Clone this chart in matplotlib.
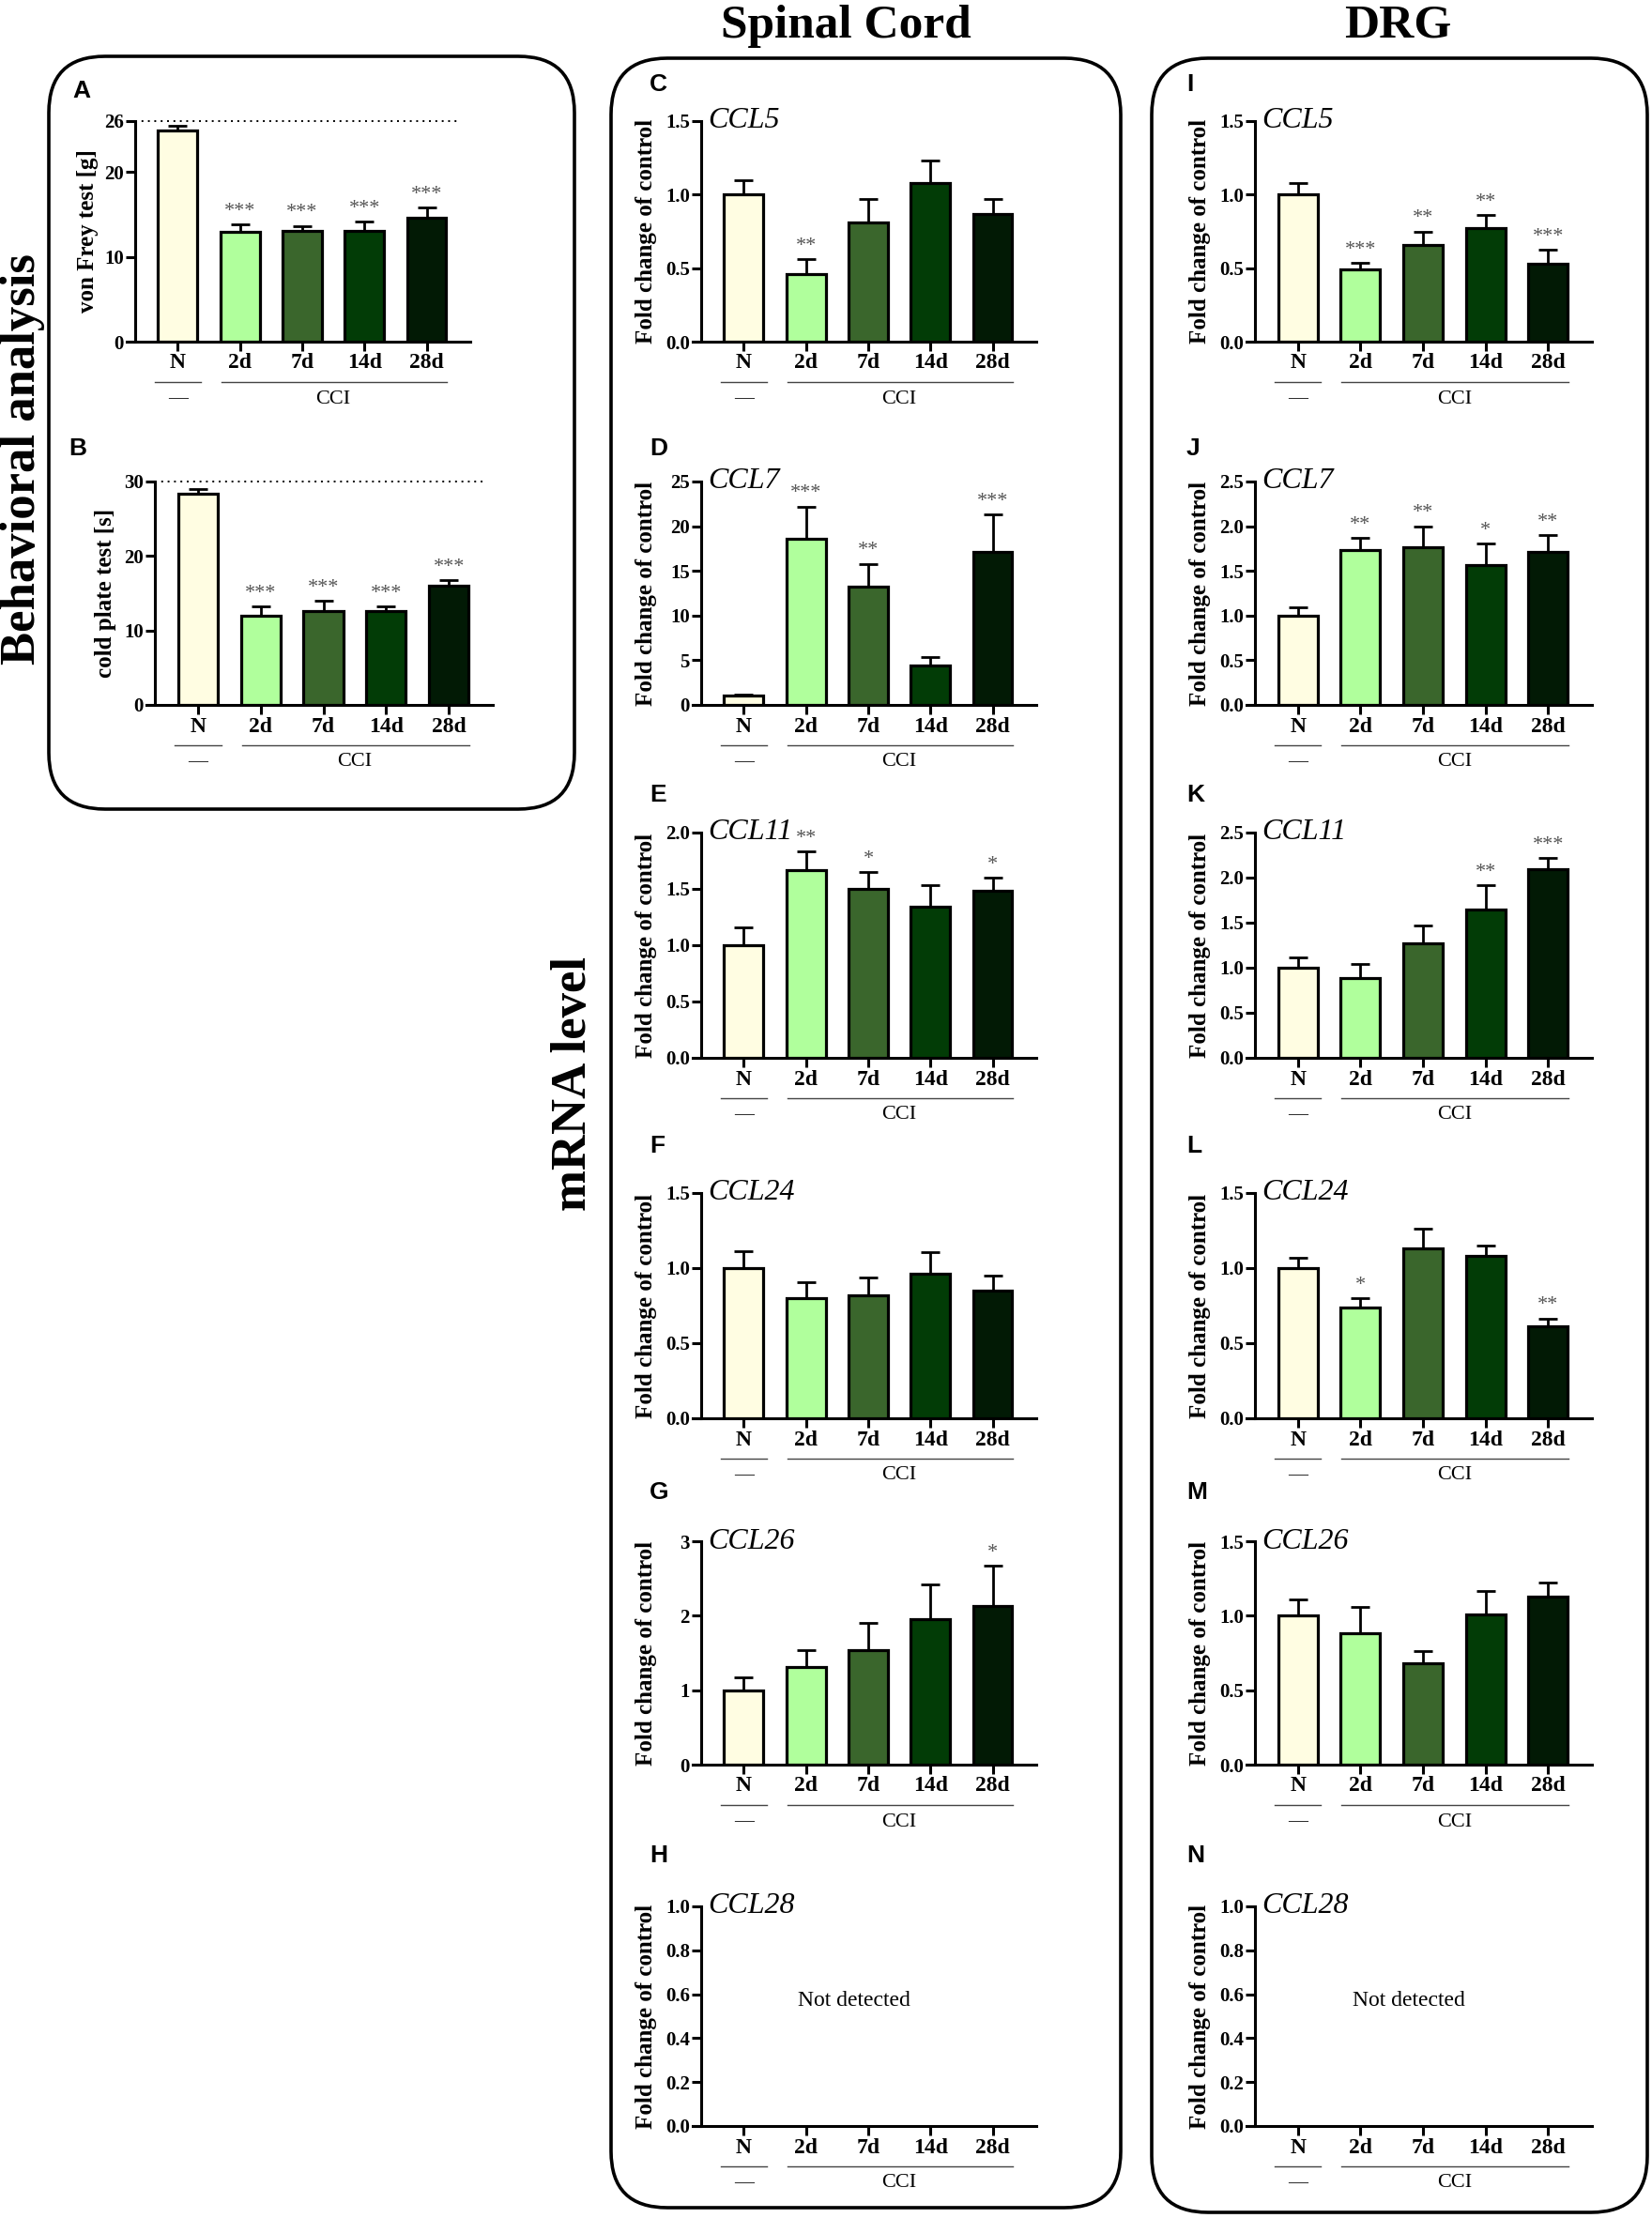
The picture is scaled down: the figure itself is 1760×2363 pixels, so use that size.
import numpy as np
import matplotlib
matplotlib.use('Agg')
from matplotlib import pyplot as plt
from matplotlib.patches import FancyBboxPatch
from matplotlib.transforms import blended_transform_factory

plt.rcParams['font.family'] = ['Liberation Serif', 'DejaVu Serif']

W, H = 1760, 2363

# groups and colours
groups = ['N', '2d', '7d', '14d', '28d']
bar_colors = ['#FFFDE2', '#B0FF9C', '#3A662C', '#023C06', '#021A05']

# behavioural tests
vonfrey_mean = [24.9, 12.9, 13.1, 13.05, 14.6]
vonfrey_err = [0.6, 0.9, 0.55, 1.1, 1.2]
vonfrey_sig = ['', '***', '***', '***', '***']
coldplate_mean = [28.4, 12.0, 12.6, 12.6, 16.0]
coldplate_err = [0.55, 1.25, 1.35, 0.65, 0.75]
coldplate_sig = ['', '***', '***', '***', '***']

# spinal cord mRNA
sc_ccl5_mean = [1.0, 0.46, 0.81, 1.08, 0.87]
sc_ccl5_err = [0.10, 0.10, 0.16, 0.15, 0.10]
sc_ccl5_sig = ['', '**', '', '', '']
sc_ccl7_mean = [1.0, 18.6, 13.2, 4.4, 17.1]
sc_ccl7_err = [0.15, 3.6, 2.6, 1.0, 4.2]
sc_ccl7_sig = ['', '***', '**', '', '***']
sc_ccl11_mean = [1.0, 1.67, 1.50, 1.34, 1.48]
sc_ccl11_err = [0.16, 0.16, 0.15, 0.19, 0.12]
sc_ccl11_sig = ['', '**', '*', '', '*']
sc_ccl24_mean = [1.0, 0.80, 0.82, 0.96, 0.85]
sc_ccl24_err = [0.11, 0.105, 0.115, 0.145, 0.10]
sc_ccl24_sig = ['', '', '', '', '']
sc_ccl26_mean = [1.0, 1.31, 1.54, 1.96, 2.13]
sc_ccl26_err = [0.17, 0.23, 0.36, 0.46, 0.54]
sc_ccl26_sig = ['', '', '', '', '*']

# DRG mRNA
drg_ccl5_mean = [1.0, 0.49, 0.66, 0.77, 0.53]
drg_ccl5_err = [0.08, 0.045, 0.09, 0.09, 0.095]
drg_ccl5_sig = ['', '***', '**', '**', '***']
drg_ccl7_mean = [1.0, 1.73, 1.76, 1.56, 1.71]
drg_ccl7_err = [0.09, 0.14, 0.24, 0.245, 0.19]
drg_ccl7_sig = ['', '**', '**', '*', '**']
drg_ccl11_mean = [1.0, 0.89, 1.27, 1.65, 2.09]
drg_ccl11_err = [0.11, 0.15, 0.20, 0.27, 0.13]
drg_ccl11_sig = ['', '', '', '**', '***']
drg_ccl24_mean = [1.0, 0.74, 1.13, 1.08, 0.61]
drg_ccl24_err = [0.07, 0.06, 0.13, 0.07, 0.055]
drg_ccl24_sig = ['', '*', '', '', '**']
drg_ccl26_mean = [1.0, 0.88, 0.68, 1.01, 1.13]
drg_ccl26_err = [0.11, 0.18, 0.08, 0.155, 0.095]
drg_ccl26_sig = ['', '', '', '', '']

# layout in pixels
row_top = [129, 513, 887, 1271, 1642, 2031]
row_bot = [364, 751, 1127, 1511, 1880, 2265]
letter_y = [90, 478, 847, 1221, 1590, 1977]

fig = plt.figure(figsize=(W / 100, H / 100), dpi=100)

# background layer in pixel units: boxes + big labels
bg = fig.add_axes([0, 0, 1, 1], zorder=-1)
bg.set_xlim(0, W)
bg.set_ylim(H, 0)
bg.axis('off')
for (x0, y0, x1, y1) in [(52, 60, 612, 862), (651, 62, 1194, 2352), (1227, 62, 1755, 2357)]:
    bg.add_patch(FancyBboxPatch((x0, y0), x1 - x0, y1 - y0,
                                boxstyle='round,pad=0,rounding_size=60',
                                fc='none', ec='black', lw=2.6))
bg.text(901, 40, 'Spinal Cord', ha='center', va='baseline', fontsize=37, fontweight='bold')
bg.text(1489, 40, 'DRG', ha='center', va='baseline', fontsize=37, fontweight='bold')
bg.text(24, 489, 'Behavioral analysis', rotation=90, ha='center', va='center',
        fontsize=38, fontweight='bold')
bg.text(611, 1155, 'mRNA level', rotation=90, ha='center', va='center',
        fontsize=38, fontweight='bold')


def make_axes(left, top, right, bottom):
    return fig.add_axes([left / W, 1 - bottom / H, (right - left) / W, (bottom - top) / H])


def draw_panel(ax, letter, letter_x, ly, gene, mean, err, sig, ymax, yticks, fmt, ylabel,
               ylabel_off, width_px, height_px, dotted=False, empty=False):
    x = np.arange(len(groups))
    ax.patch.set_visible(False)
    if not empty:
        ax.bar(x, mean, width=0.63, color=bar_colors, edgecolor='black', linewidth=2.3, zorder=3)
        ax.errorbar(x, mean, yerr=[np.zeros(len(mean)), err], fmt='none', ecolor='black',
                    elinewidth=2.0, capsize=7.5, capthick=2.0, zorder=2)
        for xi, m, e, s in zip(x, mean, err, sig):
            if s:
                ax.annotate(s, (xi, m + e), xytext=(0, 3), textcoords='offset points',
                            ha='center', va='bottom', fontsize=16, color='#555555')
    else:
        ax.text(0.47, 0.57, 'Not detected', transform=ax.transAxes, ha='center', va='center',
                fontsize=17)
    if dotted:
        ax.plot([-0.68, 4.55], [ymax, ymax], ls=(0, (1, 2.5)), color='black', lw=1.4,
                clip_on=False)
    ax.set_xlim(-0.82, 4.7)
    ax.set_ylim(0, ymax)
    ax.spines['top'].set_visible(False)
    ax.spines['right'].set_visible(False)
    ax.spines['left'].set_position(('data', -0.68))
    ax.spines['left'].set_linewidth(2.2)
    ax.spines['bottom'].set_linewidth(2.2)
    ax.set_xticks(x)
    ax.set_xticklabels(groups, fontsize=17, fontweight='bold')
    ax.set_yticks(yticks)
    ax.set_yticklabels([fmt.format(t) for t in yticks], fontsize=15, fontweight='bold')
    ax.tick_params(axis='both', direction='out', length=7, width=2.2, pad=2)
    ax.set_ylabel(ylabel, fontsize=18, fontweight='bold', va='center')
    ax.yaxis.set_label_coords(-ylabel_off / width_px, 0.5)
    if gene:
        ax.text(-0.57, ymax, gene, ha='left', va='center', fontsize=23, style='italic')
    # group lines under the x axis
    tr = blended_transform_factory(ax.transData, ax.transAxes)
    yl = -43 / height_px
    yt = -61 / height_px
    ax.plot([-0.37, 0.37], [yl, yl], color='#444444', lw=1.0, transform=tr, clip_on=False)
    ax.plot([0.7, 4.33], [yl, yl], color='#444444', lw=1.0, transform=tr, clip_on=False)
    ax.text(0, yt, '\u2014', transform=tr, ha='center', va='center', fontsize=15)
    ax.text(2.5, yt, 'CCI', transform=tr, ha='center', va='center', fontsize=16)
    # panel letter
    bg.text(letter_x, ly, letter, ha='left', va='center', fontsize=19, fontweight='bold',
            family='Liberation Sans')


# column 1: behaviour
axA = make_axes(135, row_top[0], 501, row_bot[0])
draw_panel(axA, 'A', 77, 97, '', vonfrey_mean, vonfrey_err, vonfrey_sig, 26, [0, 10, 20, 26],
           '{:.0f}', 'von Frey test [g]', 42, 366, row_bot[0] - row_top[0], dotted=True)
axB = make_axes(156, row_top[1], 525, row_bot[1])
draw_panel(axB, 'B', 73, letter_y[1], '', coldplate_mean, coldplate_err, coldplate_sig, 30,
           [0, 10, 20, 30], '{:.0f}', 'cold plate test [s]', 44, 369, row_bot[1] - row_top[1],
           dotted=True)

t15 = [0.0, 0.5, 1.0, 1.5]
t20 = [0.0, 0.5, 1.0, 1.5, 2.0]
t25 = [0.0, 0.5, 1.0, 1.5, 2.0, 2.5]
t10 = [0.0, 0.2, 0.4, 0.6, 0.8, 1.0]
ylab = 'Fold change of control'

spinal = [
    ('C', 'CCL5', sc_ccl5_mean, sc_ccl5_err, sc_ccl5_sig, 1.5, t15, '{:.1f}'),
    ('D', 'CCL7', sc_ccl7_mean, sc_ccl7_err, sc_ccl7_sig, 25, [0, 5, 10, 15, 20, 25], '{:.0f}'),
    ('E', 'CCL11', sc_ccl11_mean, sc_ccl11_err, sc_ccl11_sig, 2.0, t20, '{:.1f}'),
    ('F', 'CCL24', sc_ccl24_mean, sc_ccl24_err, sc_ccl24_sig, 1.5, t15, '{:.1f}'),
    ('G', 'CCL26', sc_ccl26_mean, sc_ccl26_err, sc_ccl26_sig, 3, [0, 1, 2, 3], '{:.0f}'),
    ('H', 'CCL28', None, None, None, 1.0, t10, '{:.1f}'),
]
drg = [
    ('I', 'CCL5', drg_ccl5_mean, drg_ccl5_err, drg_ccl5_sig, 1.5, t15, '{:.1f}'),
    ('J', 'CCL7', drg_ccl7_mean, drg_ccl7_err, drg_ccl7_sig, 2.5, t25, '{:.1f}'),
    ('K', 'CCL11', drg_ccl11_mean, drg_ccl11_err, drg_ccl11_sig, 2.5, t25, '{:.1f}'),
    ('L', 'CCL24', drg_ccl24_mean, drg_ccl24_err, drg_ccl24_sig, 1.5, t15, '{:.1f}'),
    ('M', 'CCL26', drg_ccl26_mean, drg_ccl26_err, drg_ccl26_sig, 1.5, t15, '{:.1f}'),
    ('N', 'CCL28', None, None, None, 1.0, t10, '{:.1f}'),
]

for col, (panels, left, right, lx) in enumerate([(spinal, 738, 1104, 692), (drg, 1328, 1696, 1264)]):
    for r, (let, gene, m, e, s, ymax, yt, fmt) in enumerate(panels):
        ax = make_axes(left, row_top[r], right, row_bot[r])
        draw_panel(ax, let, lx, letter_y[r], gene, m, e, s, ymax, yt, fmt, ylab, 50,
                   right - left, row_bot[r] - row_top[r], empty=(m is None))

fig.savefig('out.png', dpi=100)
